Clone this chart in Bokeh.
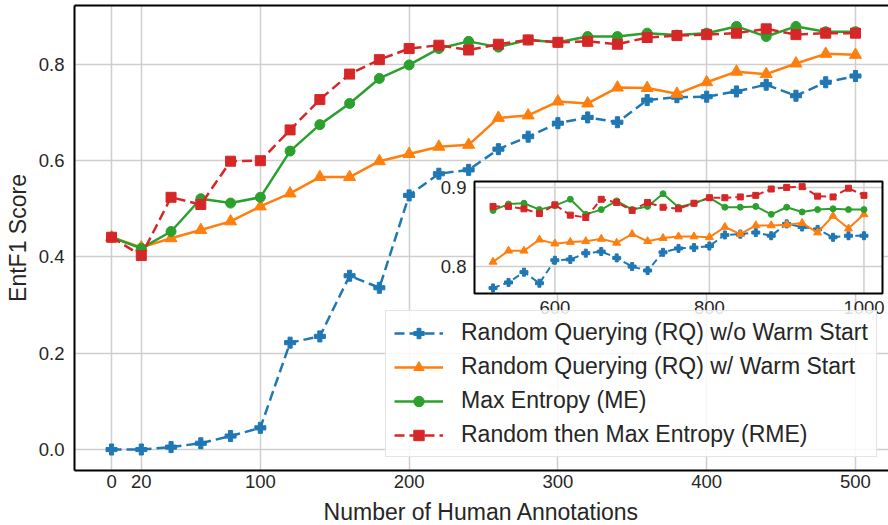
from bokeh.plotting import figure
from bokeh.models import (Range1d, LinearAxis, FixedTicker, Legend, LegendItem,
                          NumeralTickFormatter, ColumnDataSource)
from bokeh.core.properties import value
from bokeh.embed import file_html
from bokeh.resources import INLINE

# ---------------- data ----------------
x_main = list(range(0, 501, 20))
rq_wo = [0.0, 0.0, 0.005, 0.013, 0.028, 0.045, 0.222, 0.235, 0.361, 0.336, 0.528, 0.573,
         0.581, 0.624, 0.650, 0.678, 0.690, 0.680, 0.726, 0.732, 0.733, 0.744, 0.758,
         0.735, 0.763, 0.776]
rq_w = [0.441, 0.420, 0.439, 0.456, 0.474, 0.505, 0.532, 0.566, 0.566, 0.599, 0.614,
        0.629, 0.633, 0.689, 0.694, 0.723, 0.719, 0.752, 0.751, 0.739, 0.763, 0.785,
        0.780, 0.802, 0.822, 0.820]
me = [0.441, 0.418, 0.453, 0.521, 0.512, 0.524, 0.620, 0.675, 0.719, 0.771, 0.799, 0.833,
      0.848, 0.836, 0.851, 0.846, 0.858, 0.858, 0.865, 0.861, 0.865, 0.879, 0.858, 0.879,
      0.868, 0.868]
rme = [0.441, 0.403, 0.524, 0.509, 0.599, 0.600, 0.664, 0.727, 0.780, 0.810, 0.833, 0.840,
       0.830, 0.842, 0.851, 0.846, 0.848, 0.842, 0.856, 0.860, 0.862, 0.865, 0.874, 0.862,
       0.865, 0.865]

x_inset = list(range(520, 1001, 20))
in_rq_wo = [0.773, 0.780, 0.793, 0.779, 0.808, 0.809, 0.817, 0.819, 0.811, 0.800, 0.795,
            0.818, 0.823, 0.824, 0.826, 0.840, 0.841, 0.843, 0.839, 0.854, 0.850, 0.847,
            0.837, 0.839, 0.839]
in_rq_w = [0.806, 0.820, 0.820, 0.834, 0.829, 0.831, 0.832, 0.835, 0.830, 0.841, 0.832,
           0.836, 0.838, 0.838, 0.837, 0.850, 0.841, 0.852, 0.852, 0.853, 0.855, 0.843,
           0.864, 0.848, 0.866]
in_me = [0.871, 0.879, 0.880, 0.872, 0.877, 0.885, 0.866, 0.872, 0.883, 0.872, 0.876,
         0.892, 0.875, 0.880, 0.887, 0.875, 0.875, 0.876, 0.866, 0.875, 0.869, 0.872,
         0.873, 0.872, 0.872]
in_rme = [0.876, 0.876, 0.873, 0.867, 0.878, 0.865, 0.862, 0.885, 0.881, 0.871, 0.881,
          0.875, 0.873, 0.880, 0.887, 0.887, 0.888, 0.890, 0.898, 0.900, 0.901, 0.889,
          0.888, 0.899, 0.890]

labels = ["Random Querying (RQ) w/o Warm Start",
          "Random Querying (RQ) w/ Warm Start",
          "Max Entropy (ME)",
          "Random then Max Entropy (RME)"]
x_ticks = [0, 20, 100, 200, 300, 400, 500]
y_ticks = [0.0, 0.2, 0.4, 0.6, 0.8]
inset_x_ticks = [600, 800, 1000]
inset_x_tick_labels = ["600", "800", "1000"]
inset_y_ticks = [0.8, 0.9]
inset_y_tick_labels = ["0.8", "0.9"]

# ---------------- layout constants ----------------
FONT = "Liberation Sans"
TXT = "#262626"
COLORS = ["#1f77b4", "#ff7f0e", "#2ca02c", "#d62728"]
MARKERS = ["plus", "triangle", "circle", "square"]
DASHES = ["10 5", "solid", "solid", "10 5"]

FW, FH = 814, 465          # frame size in px
BL, BT, BB = 74, 5, 55     # borders
xr = Range1d(-24.9, 522.2)
yr = Range1d(-0.0436, 0.9225)

# inset box inside the frame (px, from frame left / frame bottom)
IX0, IX1 = 400, 808
IY0, IY1 = 177, 289
ix_lo, ix_hi = 496.0, 1024.0
iy_lo, iy_hi = 0.766, 0.9075
sx = (ix_hi - ix_lo) / (IX1 - IX0)
sy = (iy_hi - iy_lo) / (IY1 - IY0)
ixr = Range1d(ix_lo - IX0 * sx, ix_lo - IX0 * sx + FW * sx)
iyr = Range1d(iy_lo - IY0 * sy, iy_lo - IY0 * sy + FH * sy)

p = figure(frame_width=FW, frame_height=FH, x_range=xr, y_range=yr,
           output_backend="svg", toolbar_location=None,
           min_border_left=BL, min_border_right=0, min_border_top=BT, min_border_bottom=BB,
           background_fill_color="white", border_fill_color="white")
p.extra_x_ranges = {"ix": ixr}
p.extra_y_ranges = {"iy": iyr}
p.outline_line_color = None

# grid
for g in (p.xgrid, p.ygrid):
    g.grid_line_color = "#cfcfcf"
    g.grid_line_width = 1.5
p.xgrid.ticker = FixedTicker(ticks=x_ticks)
p.ygrid.ticker = FixedTicker(ticks=y_ticks)

# axes
for ax in (p.xaxis[0], p.yaxis[0]):
    ax.axis_line_color = "black"
    ax.axis_line_width = 2
    ax.major_tick_line_color = None
    ax.minor_tick_line_color = None
    ax.major_tick_out = 0
    ax.major_tick_in = 0
    ax.minor_tick_out = 0
    ax.minor_tick_in = 0
    ax.major_label_text_font = FONT
    ax.major_label_text_font_size = "18.5px"
    ax.major_label_text_color = TXT
    ax.axis_label_text_font = FONT
    ax.axis_label_text_font_size = "23px"
    ax.axis_label_text_font_style = "normal"
    ax.axis_label_text_color = TXT
p.xaxis.ticker = FixedTicker(ticks=x_ticks)
p.yaxis.ticker = FixedTicker(ticks=y_ticks)
p.yaxis.formatter = NumeralTickFormatter(format="0.0")
p.xaxis.axis_label = "Number of Human Annotations"
p.yaxis.axis_label = "EntF1 Score"
p.xaxis.major_label_standoff = 4
p.yaxis.major_label_standoff = 10
p.xaxis.axis_label_standoff = 8
p.yaxis.axis_label_standoff = 5

top = LinearAxis(ticker=FixedTicker(ticks=[]), axis_line_color="black", axis_line_width=2,
                 major_tick_line_color=None, minor_tick_line_color=None,
                 major_label_standoff=0, major_tick_out=0, major_tick_in=0,
                 minor_tick_out=0, minor_tick_in=0)
p.add_layout(top, "above")

# main series
items = []
for ys, c, m, d, lab, ms in zip([rq_wo, rq_w, me, rme], COLORS, MARKERS, DASHES, labels,
                                [11, 12, 10, 10]):
    src = ColumnDataSource(dict(x=x_main, y=ys))
    lr = p.line("x", "y", source=src, line_color=c, line_width=2.5, line_dash=d)
    sr = p.scatter("x", "y", source=src, marker=m, size=ms, fill_color=c, line_color=c)
    items.append(LegendItem(label=lab, renderers=[lr, sr]))

# inset background
p.quad(left=[ix_lo], right=[ix_hi], bottom=[iy_lo], top=[iy_hi],
       x_range_name="ix", y_range_name="iy",
       fill_color="white", line_color=None)
# inset grid
p.segment(x0=inset_x_ticks, x1=inset_x_ticks, y0=[iy_lo] * 3, y1=[iy_hi] * 3,
          x_range_name="ix", y_range_name="iy", line_color="#cfcfcf", line_width=1.5)
p.segment(x0=[ix_lo] * 2, x1=[ix_hi] * 2, y0=inset_y_ticks, y1=inset_y_ticks,
          x_range_name="ix", y_range_name="iy", line_color="#cfcfcf", line_width=1.5)
# inset series
for ys, c, m, d, ms in zip([in_rq_wo, in_rq_w, in_me, in_rme], COLORS, MARKERS, DASHES,
                           [8, 8, 6, 6]):
    src = ColumnDataSource(dict(x=x_inset, y=ys))
    p.line("x", "y", source=src, line_color=c, line_width=2,
           line_dash=("7 4" if d != "solid" else d),
           x_range_name="ix", y_range_name="iy")
    p.scatter("x", "y", source=src, marker=m, size=ms, fill_color=c, line_color=c,
              x_range_name="ix", y_range_name="iy")
# inset frame
p.quad(left=[ix_lo], right=[ix_hi], bottom=[iy_lo], top=[iy_hi],
       x_range_name="ix", y_range_name="iy",
       fill_color=None, line_color="black", line_width=2)
# inset tick labels
p.text(x=inset_x_ticks, y=[iy_lo] * 3, text=inset_x_tick_labels,
       x_range_name="ix", y_range_name="iy", y_offset=7,
       text_align="center", text_baseline="top", text_font=value(FONT),
       text_font_size="18.5px", text_color=TXT)
p.text(x=[ix_lo] * 2, y=inset_y_ticks, text=inset_y_tick_labels,
       x_range_name="ix", y_range_name="iy", x_offset=-8,
       text_align="right", text_baseline="middle", text_font=value(FONT),
       text_font_size="18.5px", text_color=TXT)

legend = Legend(items=items, location=(311, 13),
                label_text_font=FONT, label_text_font_size="23px", label_text_color=TXT,
                glyph_width=49, glyph_height=26, label_height=26, spacing=7,
                padding=8, margin=0, label_standoff=18,
                border_line_color="#cccccc", border_line_width=1.5,
                background_fill_color="white", background_fill_alpha=0.85)
p.add_layout(legend)

open("out.html", "w").write(file_html(p, INLINE))
